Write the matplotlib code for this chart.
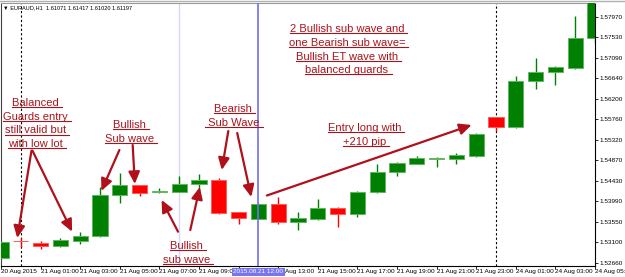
import numpy as np
import matplotlib
matplotlib.use("Agg")
import matplotlib.pyplot as plt
from matplotlib.patches import FancyArrowPatch
from matplotlib.lines import Line2D
from matplotlib.transforms import IdentityTransform

plt.rcParams["font.family"] = ["Liberation Sans", "DejaVu Sans"]

# EURAUD H1 candles, 20 Aug 23:00 .. 24 Aug 05:00
opens = [1.52768, 1.53126, 1.53092, 1.53033, 1.53141, 1.53249, 1.54121, 1.54344, 1.54182, 1.54199,
         1.54359, 1.54452, 1.53754, 1.53616, 1.53934, 1.53538, 1.53610, 1.53854, 1.53711, 1.54186,
         1.54618, 1.54803, 1.54911, 1.54905, 1.54976, 1.55811, 1.55589, 1.56588, 1.56776, 1.56876,
         1.57523]
highs = [1.53135, 1.53200, 1.53141, 1.53193, 1.53329, 1.54294, 1.54609, 1.54354, 1.54272, 1.54544,
         1.54575, 1.54488, 1.53761, 1.53955, 1.54091, 1.53767, 1.54041, 1.53869, 1.54221, 1.54797,
         1.54847, 1.54976, 1.54942, 1.55041, 1.55466, 1.55822, 1.56696, 1.57078, 1.56919, 1.57992,
         1.58450]
lows = [1.52746, 1.53005, 1.52956, 1.53012, 1.53077, 1.53228, 1.53949, 1.54113, 1.54165, 1.54186,
        1.54199, 1.53711, 1.53502, 1.53599, 1.53502, 1.53372, 1.53588, 1.53431, 1.53646, 1.54165,
        1.54544, 1.54790, 1.54726, 1.54790, 1.54954, 1.55516, 1.55574, 1.56409, 1.56502, 1.56848,
        1.57402]
closes = [1.53113, 1.53122, 1.53033, 1.53150, 1.53249, 1.54121, 1.54344, 1.54177, 1.54214, 1.54365,
          1.54452, 1.53746, 1.53638, 1.53940, 1.53538, 1.53625, 1.53854, 1.53711, 1.54199, 1.54618,
          1.54819, 1.54920, 1.54926, 1.54991, 1.55444, 1.55589, 1.56588, 1.56789, 1.56884, 1.57510,
          1.58400]

# 21 Aug 11:00 and the "21 " of 13:00 sit under the highlighted label, so they are left out
time_labels = ["20 Aug 2015", "21 Aug 01:00", "21 Aug 03:00", "21 Aug 05:00", "21 Aug 07:00",
               "21 Aug 09:00", "", "", "21 Aug 15:00", "21 Aug 17:00",
               "21 Aug 19:00", "21 Aug 21:00", "21 Aug 23:00", "24 Aug 01:00", "24 Aug 03:00",
               "24 Aug 05:00"]
price_labels = ["1.52660", "1.53100", "1.53550", "1.53990", "1.54430", "1.54870", "1.55320",
                "1.55760", "1.56200", "1.56640", "1.57090", "1.57530", "1.57970"]

GREEN, RED = "#008000", "#ff0000"
NOTE = "#a8141c"

fig = plt.figure(figsize=(6.25, 2.77), dpi=100)
ax = fig.add_axes([1 / 625, 11 / 277, 594 / 625, 263 / 277])

x = np.arange(len(opens))
o, h, l, c = map(np.array, (opens, highs, lows, closes))
up = c >= o
col = np.where(up, GREEN, RED)
edge = np.where(up, "#62b562", "#ff5a5a")

ax.vlines(x, l, h, colors=col, lw=1.0, zorder=2)
body = np.where(np.abs(c - o) < 0.00005, 0.00005, c - o)
ax.bar(x, body, bottom=o, width=0.76, color=col, edgecolor=edge, lw=0.7, zorder=3)

# separators and vertical lines
for xv in (1, 25):
    ax.axvline(xv, color="black", lw=0.8, ls=(0, (2, 2)), zorder=1)
ax.axvline(9, color="#d6d6ff", lw=1.0, zorder=1)
ax.axvline(13, color="#6f6ff0", lw=1.2, zorder=4)

ax.set_xlim(0.025, 30.0)
ax.set_ylim(1.52595, 1.58272)

ax.set_xticks(np.arange(0, 31, 2))
ax.set_xticklabels(time_labels, ha="left", fontsize=4.6)
ax.tick_params(axis="x", length=2, width=0.6, pad=0.5)
ax.yaxis.tick_right()
ax.set_yticks(np.linspace(1.5266, 1.5797, 13))
ax.set_yticklabels(price_labels, fontsize=4.6)
ax.tick_params(axis="y", length=2, width=0.6, pad=1.5)
ax.spines["top"].set_color("#9a9a9a")
ax.spines["left"].set_color("#404040")
for s in ("right", "bottom"):
    ax.spines[s].set_color("black")

# highlighted time label of the blue line, and the visible rest of the 13:00 label
ax.annotate("2015.08.21 12:00", xy=(13, 0), xycoords=("data", "axes fraction"),
            xytext=(0, -4.2), textcoords="offset points", ha="center", va="center",
            fontsize=4.6, color="white", zorder=10, annotation_clip=False,
            bbox=dict(boxstyle="square,pad=0.25", fc="#7676ee", ec="none"))
ax.annotate("Aug 13:00", xy=(14, 0), xycoords=("data", "axes fraction"),
            xytext=(5.0, -4.2), textcoords="offset points", ha="left", va="center",
            fontsize=4.6, color="black", annotation_clip=False)

fig.text(3 / 625, 1 - 8 / 277, "\u25bc EURAUD,H1  1.61071 1.61417 1.61020 1.61197",
         fontsize=4.1, va="center", ha="left", color="black")

# notes: (center index, first baseline price, lines)
notes = [
    (1.80, 1.56049, ["Balanced ", "Guards entry ", "still valid but ", "with low lot "]),
    (6.58, 1.55574, ["Bullish ", "Sub wave "]),
    (11.78, 1.55919, ["Bearish ", " Sub Wave "]),
    (17.55, 1.57646, ["2 Bullish sub wave and ", "one Bearish sub wave= ",
                      "Bullish ET wave with ", "balanced guards "]),
    (18.44, 1.55509, ["Entry long with ", "+210 pip "]),
    (9.46, 1.52962, ["Bullish ", "sub wave "]),
]
texts = []
for xc, yb, lines in notes:
    for i, line in enumerate(lines):
        t = ax.annotate(line, xy=(xc, yb), xytext=(0, -i * 9.9), textcoords="offset points",
                        ha="center", va="baseline", fontsize=8, color=NOTE, zorder=6)
        texts.append(t)

# arrows: (start index, start price, tip index, tip price)
arrows = [
    (1.54, 1.55084, 0.82, 1.53200),
    (1.59, 1.55084, 3.59, 1.53336),
    (5.98, 1.55099, 5.07, 1.54214),
    (6.65, 1.55207, 6.76, 1.54365),
    (11.48, 1.55509, 11.15, 1.54667),
    (11.93, 1.55466, 12.64, 1.54085),
    (8.94, 1.53336, 8.11, 1.54020),
    (9.56, 1.53372, 10.04, 1.54300),
    (13.43, 1.54117, 23.77, 1.55639),
]
for x0, y0, x1, y1 in arrows:
    ax.add_patch(FancyArrowPatch((x0, y0), (x1, y1), arrowstyle="-|>,head_length=0.6,head_width=0.28",
                                 mutation_scale=12, color="#b0101a", lw=1.6,
                                 shrinkA=0, shrinkB=0, zorder=7))

# underline every note line, then the window frame at the top
fig.canvas.draw()
r = fig.canvas.get_renderer()
for t in texts:
    bb = t.get_window_extent(r)
    fig.add_artist(Line2D([bb.x0, bb.x1], [bb.y0 + 0.8] * 2, transform=IdentityTransform(),
                          color=NOTE, lw=0.8))
fig.add_artist(Line2D([0, 1], [1 - 1 / 277] * 2, color="#b0b0b0", lw=1.0))

fig.savefig("out.png", dpi=100, facecolor="white")
